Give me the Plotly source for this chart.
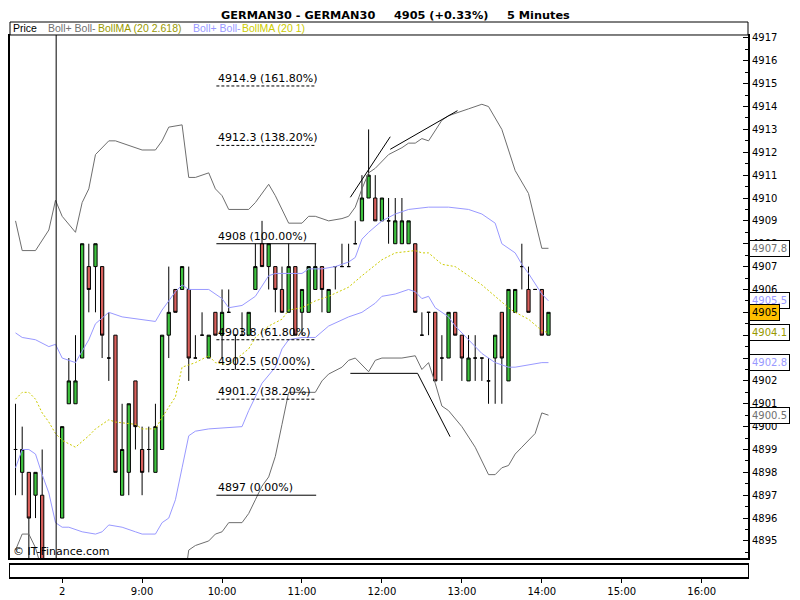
import plotly.graph_objects as go

# bar index: 0 = 8:00 of day 2, one step = 5 minutes; negative = end of previous day
bar_x = [-7, -6, -5, -4, -3] + list(range(74))

opens = [4899, 4898, 4898, 4897, 4897,
         4896, 4901, 4901, 4903, 4907, 4907, 4907, 4903, 4904, 4897,
         4898, 4902, 4899, 4899, 4898, 4899, 4904, 4906, 4906, 4906,
         4903, 4904, 4903, 4905, 4904, 4905, 4904, 4904, 4904, 4906,
         4908, 4907, 4907, 4906, 4905, 4907, 4905, 4905, 4906, 4907,
         4905, 4907, 4907, 4907, 4908, 4909, 4910, 4910, 4909, 4909,
         4908, 4908, 4908, 4908, 4904, 4905, 4905, 4903, 4903, 4905,
         4904, 4902, 4903, 4903, 4902, 4903, 4905, 4902, 4905, 4907,
         4906, 4906, 4906, 4904]
highs = [4901, 4900, 4898, 4898, 4899,
         4900, 4903, 4904, 4908, 4908, 4908, 4907, 4905, 4904, 4901,
         4901, 4902, 4900, 4900, 4901, 4904, 4907, 4906, 4907, 4907,
         4904, 4905, 4904, 4905, 4906, 4906, 4904, 4905, 4905, 4908,
         4909, 4908, 4907, 4907, 4908, 4907, 4906, 4907, 4908, 4907,
         4906, 4907, 4908, 4908, 4909, 4911, 4913, 4911, 4910, 4910,
         4910, 4910, 4909, 4908, 4905, 4905, 4905, 4904, 4905, 4905,
         4904, 4904, 4904, 4903, 4903, 4904, 4905, 4906, 4906, 4908,
         4907, 4906, 4906, 4905]
lows = [4897, 4897, 4894, 4896, 4893.5,
        4896, 4901, 4901, 4903, 4905, 4905, 4903, 4902, 4898, 4897,
        4897, 4899, 4897, 4898, 4898, 4899, 4903, 4905, 4906, 4902,
        4903, 4904, 4903, 4904, 4903, 4905, 4902.5, 4904, 4904, 4906,
        4907, 4906, 4905, 4905, 4905, 4904, 4904, 4905, 4906, 4905,
        4905, 4906, 4907, 4907, 4908, 4909, 4910, 4909, 4909, 4908,
        4908, 4908, 4908, 4905, 4904, 4904, 4902, 4902, 4903, 4904,
        4902, 4902, 4902, 4902, 4901, 4901, 4901, 4902, 4905, 4906,
        4905, 4906, 4904, 4904]
closes = [4899, 4899, 4896, 4898, 4894,
          4900, 4902, 4902, 4908, 4906, 4908, 4904, 4903, 4898, 4899,
          4901, 4900, 4898, 4899, 4900, 4904, 4905, 4905, 4907, 4903,
          4903, 4904, 4904, 4904, 4905, 4905, 4904, 4904, 4905, 4907,
          4907, 4908, 4906, 4905, 4907, 4904, 4906, 4907, 4907, 4906,
          4906, 4907, 4907, 4907, 4908, 4910, 4911, 4909, 4910, 4909,
          4909, 4909, 4909, 4905, 4904, 4905, 4902, 4903, 4905, 4904,
          4903, 4903, 4903, 4903, 4902, 4904, 4903, 4906, 4906, 4907,
          4905, 4906, 4904, 4905]

# Bollinger (20, 2.618)
u2_x = [-7, -6, -4, -2, -1, 0, 2, 3, 4, 5, 7, 8, 12, 14, 15, 16, 18, 19, 20, 22, 23, 24, 25, 27, 28,
        29, 31, 32, 34, 36, 37, 38, 40, 42, 43, 44, 45, 46, 47, 49, 51, 52, 53, 54, 55, 57, 58, 61, 63,
        64, 66, 67, 68, 70, 71, 72, 73]
u2_y = [4909.0, 4907.7, 4907.7, 4908.6, 4909.9, 4909.2, 4908.5, 4909.8, 4910.4, 4911.9, 4912.5, 4912.5,
        4912.1, 4912.1, 4912.5, 4913.1, 4913.2, 4910.9, 4910.9, 4911.1, 4910.4, 4910.1, 4909.5, 4909.5,
        4909.5, 4909.8, 4910.6, 4910.1, 4908.9, 4908.9, 4909.2, 4909.2, 4909.0, 4909.1, 4909.2, 4909.6,
        4910.4, 4911.1, 4911.3, 4911.9, 4912.2, 4912.4, 4912.4, 4912.6, 4912.5, 4913.4, 4913.6, 4913.9,
        4914.1, 4914.0, 4913.0, 4912.1, 4911.2, 4910.2, 4909.0, 4907.8, 4907.8]
l2_x = [-7, -6, -5, -4, -3, 18, 19, 20, 22, 23, 24, 25, 27, 28, 29, 30, 31, 32, 33, 34, 36, 38, 39, 40,
        42, 43, 44, 46, 47, 48, 51, 53, 54, 55, 56, 57, 58, 60, 62, 63, 64, 65, 66, 67, 68, 69, 71, 72, 73]
l2_y = [4894.6, 4895.3, 4895.3, 4894.7, 4893.7, 4892.5, 4894.6, 4894.8, 4895.0, 4895.3, 4895.4, 4895.8,
        4895.8, 4896.2, 4896.8, 4897.4, 4897.8, 4898.7, 4900.1, 4901.5, 4901.5, 4901.5, 4902.0, 4902.3,
        4902.6, 4902.9, 4903.0, 4902.4, 4902.9, 4903.0, 4903.0, 4903.1, 4902.5, 4902.8, 4901.9, 4900.9,
        4900.7, 4900.0, 4899.1, 4898.5, 4897.9, 4897.9, 4898.2, 4898.3, 4898.8, 4899.1, 4899.7, 4900.6,
        4900.5]

# Bollinger (20, 1)
u1_x = [-7, -6, -4, -2, -1, 0, 1, 2, 3, 4, 5, 7, 9, 12, 14, 15, 17, 18, 19, 22, 24, 25, 27, 29, 31,
        32, 34, 36, 37, 39, 41, 43, 44, 45, 46, 48, 50, 52, 55, 56, 58, 61, 63, 65, 66, 68, 69, 70, 72, 73]
u1_y = [4904.1, 4903.9, 4903.8, 4903.5, 4903.6, 4903.0, 4902.9, 4902.8, 4903.3, 4903.8, 4904.5, 4905.0,
        4904.8, 4904.7, 4904.6, 4905.1, 4905.9, 4906.2, 4906.0, 4906.0, 4905.6, 4905.2, 4905.3, 4905.7,
        4906.6, 4906.7, 4906.7, 4906.7, 4906.9, 4906.9, 4907.0, 4907.2, 4907.4, 4908.2, 4908.5, 4909.0,
        4909.3, 4909.5, 4909.6, 4909.6, 4909.6, 4909.5, 4909.3, 4908.9, 4908.0, 4907.6, 4907.1, 4906.7,
        4905.8, 4905.5]
l1_x = [-7, -6, -5, -4, -3, -2, -1, 0, 1, 3, 5, 6, 7, 9, 11, 12, 14, 15, 16, 17, 18, 19, 20, 22, 27,
        28, 30, 32, 33, 34, 36, 38, 40, 43, 45, 47, 48, 50, 52, 53, 54, 55, 56, 58, 59, 61, 63, 65, 67,
        68, 70, 72, 73]
l1_y = [4898.2, 4899.0, 4899.0, 4898.8, 4897.9, 4897.1, 4895.8, 4895.6, 4895.6, 4895.4, 4895.3, 4895.4,
        4895.7, 4895.6, 4895.4, 4895.3, 4895.3, 4895.8, 4896.0, 4896.8, 4898.2, 4899.6, 4899.8, 4899.9,
        4900.0, 4900.7, 4901.9, 4902.6, 4903.4, 4903.8, 4903.9, 4903.9, 4904.4, 4904.8, 4905.0, 4905.4,
        4905.7, 4905.8, 4906.0, 4905.9, 4905.6, 4905.7, 4905.2, 4904.8, 4904.4, 4903.8, 4903.2, 4902.8,
        4902.6, 4902.6, 4902.7, 4902.8, 4902.8]

# BollMA (20)
ma_x = [-7, -6, -5, -4, -3, -2, -1, 0, 2, 4, 5, 7, 8, 11, 12, 14, 15, 17, 18, 19, 20, 22, 23, 25, 28,
        29, 31, 33, 34, 36, 38, 40, 43, 45, 48, 50, 53, 54, 55, 57, 59, 61, 63, 65, 67, 68, 70, 72, 73]
ma_y = [4901.2, 4901.5, 4901.5, 4901.2, 4900.6, 4900.2, 4899.7, 4899.4, 4899.1, 4899.6, 4899.9, 4900.3,
        4900.2, 4900.1, 4899.9, 4899.9, 4900.4, 4901.3, 4902.6, 4902.7, 4902.8, 4903.1, 4902.8, 4902.7,
        4903.4, 4903.9, 4904.4, 4904.7, 4905.1, 4905.2, 4905.5, 4905.7, 4906.1, 4906.6, 4907.3, 4907.6,
        4907.7, 4907.6, 4907.6, 4907.1, 4907.0, 4906.6, 4906.2, 4905.7, 4905.2, 4905.0, 4904.7, 4904.2,
        4904.1]

# fibonacci retracement drawn between these bars
fib_levels = [4914.9, 4912.3, 4908, 4903.8, 4902.5, 4901.2, 4897]
fib_pct = ["161.80%", "138.20%", "100.00%", "61.80%", "50.00%", "38.20%", "0.00%"]
fib_from, fib_to = 23.15, 38.13

# hand drawn trend lines
trend_lines = [
    ([43.26, 49.25], [4910.03, 4912.68]),
    ([49.25, 59.34], [4912.13, 4913.82]),
    ([43.26, 53.35, 58.23], [4902.33, 4902.33, 4899.56]),
]
day_break = -0.9

tick_bars = [0, 12, 24, 36, 48, 60, 72, 84, 96]
tick_text = ["2", "9:00", "10:00", "11:00", "12:00", "13:00", "14:00", "15:00", "16:00"]

# last values shown on the price scale
last_labels = [(4907.8, "#707070", "white"), (4905.5, "#9999ff", "white"), (4905, "black", "#ffbf00"),
               (4904.1, "#999900", "white"), (4902.8, "#9999ff", "white"), (4900.5, "#707070", "white")]

GREY = "#6e6e6e"
BLUE = "#9999ff"
YEL = "#cccc00"
FONT = "DejaVu Sans"

fig = go.Figure()

for xs, ys in [(u2_x, u2_y), (l2_x, l2_y)]:
    fig.add_trace(go.Scatter(x=xs, y=ys, mode="lines", line=dict(color=GREY, width=1), hoverinfo="skip"))
for xs, ys in [(u1_x, u1_y), (l1_x, l1_y)]:
    fig.add_trace(go.Scatter(x=xs, y=ys, mode="lines", line=dict(color=BLUE, width=1), hoverinfo="skip"))
fig.add_trace(go.Scatter(x=ma_x, y=ma_y, mode="lines", line=dict(color=YEL, width=1, dash="2px,2px"),
                         hoverinfo="skip"))

for lvl, pct in zip(fib_levels, fib_pct):
    solid = pct in ("100.00%", "0.00%")
    fig.add_trace(go.Scatter(x=[fib_from, fib_to], y=[lvl, lvl], mode="lines",
                             line=dict(color="black", width=1, dash=None if solid else "3px,2px"),
                             hoverinfo="skip"))
    fig.add_annotation(x=fib_from, y=lvl, text=f"{lvl:g} ({pct})", showarrow=False, xanchor="left",
                       yanchor="bottom", yshift=-1, font=dict(family=FONT, size=11, color="black"))

for xs, ys in trend_lines:
    fig.add_trace(go.Scatter(x=xs, y=ys, mode="lines", line=dict(color="black", width=1), hoverinfo="skip"))

fig.add_trace(go.Candlestick(
    x=bar_x, open=opens, high=highs, low=lows, close=closes,
    increasing=dict(fillcolor="#3ec23e", line=dict(color="black", width=1)),
    decreasing=dict(fillcolor="#d9605c", line=dict(color="black", width=1)),
    whiskerwidth=0, hoverinfo="skip"))

# empty time strip under the chart
fig.add_trace(go.Scatter(x=[0], y=[0.5], mode="markers", marker=dict(opacity=0), xaxis="x2", yaxis="y2",
                         hoverinfo="skip"))

fig.add_shape(type="line", x0=day_break, x1=day_break, y0=0, y1=1, xref="x", yref="y domain",
              line=dict(color="black", width=1))
fig.add_shape(type="line", x0=0, x1=1, y0=0, y1=0, xref="x domain", yref="y domain",
              line=dict(color="black", width=2))
fig.add_shape(type="rect", x0=0, x1=1, y0=0.97658, y1=1.0, xref="paper", yref="paper",
              line=dict(color="black", width=1), fillcolor="white")

# header texts
title_bits = [(0.3905, "GERMAN30 - GERMAN30"), (0.5838, "4905 (+0.33%)"), (0.7162, "5 Minutes")]
for tx, txt in title_bits:
    fig.add_annotation(x=tx, y=1.0126, xref="paper", yref="paper", text=f"<b>{txt}</b>",
                       showarrow=False, xanchor="center", yanchor="middle",
                       font=dict(family=FONT, size=11.3, color="black"))

legend_bits = [(0.0014, "Price", "black"), (0.0486, "Boll+ Boll-", "#707070"),
               (0.1162, "BollMA (20 2.618)", "#999900"), (0.2446, "Boll+ Boll-", BLUE),
               (0.3122, "BollMA (20 1)", YEL)]
for lx, txt, col in legend_bits:
    fig.add_annotation(x=lx, y=0.98829, xref="paper", yref="paper", text=txt, showarrow=False,
                       xanchor="left", yanchor="middle",
                       font=dict(family="Liberation Sans", size=10.5, color=col))

fig.add_annotation(x=0.0014, y=0.04505, xref="paper", yref="paper", text="© IT-Finance.com",
                   showarrow=False, xanchor="left", yanchor="middle",
                   font=dict(family=FONT, size=11, color="black"))

for val, col, bg in last_labels:
    fig.add_annotation(x=1, y=val, xref="paper", yref="y", text=f"{val:g}", showarrow=False,
                       xanchor="left", yanchor="middle", xshift=1, bgcolor=bg, bordercolor="black",
                       borderwidth=1, borderpad=2, font=dict(family=FONT, size=10, color=col))

x_range = [-7.83, 102.95]
fig.update_layout(
    width=800, height=600,
    margin=dict(l=0, r=60, t=14, b=31),
    paper_bgcolor="white", plot_bgcolor="white",
    showlegend=False,
    xaxis=dict(range=x_range, showticklabels=False, ticks="", showgrid=False, zeroline=False,
               showline=True, mirror=True, linecolor="black", linewidth=1, fixedrange=True),
    yaxis=dict(domain=[0.03243, 0.97658], range=[4894.21, 4917.13], side="right", dtick=1, tick0=0,
               ticks="inside", ticklen=5, tickcolor="black", showgrid=False, zeroline=False,
               showline=True, mirror=True, linecolor="black", linewidth=2,
               tickfont=dict(family=FONT, size=10, color="black"),
               minor=dict(dtick=0.5, ticks="inside", ticklen=3, tickcolor="black")),
    xaxis2=dict(range=x_range, anchor="y2", tickmode="array", tickvals=tick_bars, ticktext=tick_text,
                ticks="outside", ticklen=4, tickcolor="black", showgrid=False, zeroline=False,
                showline=True, mirror=True, linecolor="black", linewidth=2,
                tickfont=dict(family=FONT, size=10, color="black")),
    yaxis2=dict(domain=[0.0, 0.02162], range=[0, 1], anchor="x2", showticklabels=False, ticks="",
                showgrid=False, zeroline=False, showline=True, mirror=True, linecolor="black",
                linewidth=1),
)
fig.update_xaxes(rangeslider_visible=False)

fig.write_html("out.html")
